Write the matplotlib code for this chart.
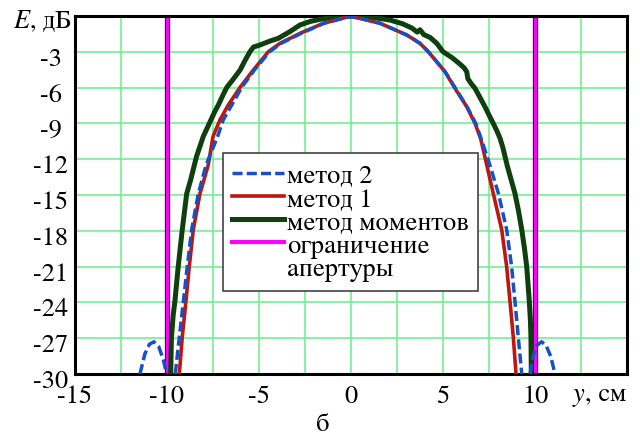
import numpy as np
import matplotlib
matplotlib.use("Agg")
import matplotlib.pyplot as plt
from matplotlib.lines import Line2D
from matplotlib.transforms import ScaledTranslation
import matplotlib.patheffects as pe

FAMILY = ['STIXGeneral', 'Tinos', 'PT Serif', 'Noto Serif', 'Liberation Serif', 'DejaVu Serif']
plt.rcParams['font.family'] = FAMILY
plt.rcParams['mathtext.fontset'] = 'stix'
plt.rcParams['axes.unicode_minus'] = False

# ---------------- data ----------------
# method of moments (dark green)
mom_y = [-9.80, -9.76, -9.66, -9.57, -9.39, -9.17, -8.93, -8.71, -8.40, -8.03,
         -7.70, -7.40, -7.21, -6.95, -6.75, -6.40, -6.03, -5.75, -5.49, -5.30,
         -4.95, -4.40, -3.95, -3.32, -2.77, -2.20, -1.68, -1.00, -0.50, 0.00,
         0.49, 1.20, 2.12, 2.80, 3.30, 3.60, 3.75, 3.95, 4.30, 4.66,
         5.00, 5.50, 5.90, 6.15, 6.29, 6.35, 6.55, 6.74, 7.00, 7.28,
         7.50, 7.73, 7.95, 8.10, 8.25, 8.50, 8.70, 8.91, 9.10, 9.28,
         9.43, 9.55, 9.69, 9.75, 9.78, 9.80]
mom_E = [-30.0, -27.0, -25.0, -23.9, -21.0, -17.9, -14.9, -13.7, -11.8, -10.1,
         -9.0, -8.0, -7.46, -6.6, -5.98, -5.3, -4.53, -3.7, -2.99, -2.6,
         -2.43, -2.1, -1.87, -1.31, -0.75, -0.45, -0.28, -0.12, -0.04, 0.0,
         -0.05, -0.12, -0.34, -0.65, -1.0, -1.35, -1.15, -1.55, -1.8, -2.29,
         -2.99, -3.5, -4.0, -4.35, -4.67, -5.25, -5.7, -6.06, -6.8, -7.6,
         -8.3, -9.0, -9.7, -10.25, -11.0, -12.6, -13.7, -14.86, -16.3, -17.9,
         -19.5, -21.0, -23.9, -25.5, -26.9, -30.0]

# method 1 (red)
m1_y = [-9.33, -9.17, -8.97, -8.79, -8.57, -8.21, -7.76, -7.50, -7.12, -6.67,
        -6.03, -5.31, -4.49, -3.86, -2.77, -1.50, -0.23, 0.00,
        0.49, 1.58, 3.03, 3.75, 4.20, 5.11, 5.65, 6.29, 6.74, 7.05,
        7.38, 7.73, 8.19, 8.46, 8.64, 8.82, 8.97]
m1_E = [-30.0, -26.9, -23.9, -21.0, -17.9, -14.9, -12.5, -10.1, -8.7, -7.46,
        -5.98, -4.53, -2.99, -2.29, -1.45, -0.61, -0.10, -0.05,
        -0.20, -0.61, -1.59, -2.29, -2.99, -4.67, -6.06, -7.6, -9.0, -10.3,
        -12.5, -14.86, -17.9, -21.0, -23.9, -26.9, -30.0]

# method 2 (blue dashed): left side lobe | main lobe | right side lobe
m2_y = [-11.47, -11.20, -10.95, -10.71, -10.45, -10.20, -10.02, np.nan,
        -9.55, -9.33, -9.11, -8.90, -8.66, -8.30, -7.88, -7.25, -6.94, -6.48,
        -5.94, -5.25, -4.42, -3.80, -2.70, -1.45, -0.20, 0.00,
        0.49, 1.58, 3.03, 3.75, 4.20, 5.11, 5.68, 6.30, 6.78, 7.10,
        7.55, 8.01, 8.46, 8.73, 8.91, 9.09, 9.28, np.nan,
        9.73, 9.90, 10.10, 10.36, 10.60, 10.85, 11.09]
m2_E = [-30.0, -28.3, -27.5, -27.3, -27.7, -28.8, -30.0, np.nan,
        -30.0, -26.9, -23.9, -21.0, -17.9, -14.9, -12.5, -10.1, -8.7, -7.46,
        -5.98, -4.53, -2.99, -2.29, -1.45, -0.60, -0.10, -0.05,
        -0.20, -0.61, -1.59, -2.29, -2.99, -4.67, -6.06, -7.6, -9.0, -10.4,
        -12.5, -14.86, -17.9, -21.0, -23.9, -26.9, -30.0, np.nan,
        -30.0, -28.5, -27.6, -27.3, -27.6, -28.5, -30.0]

aperture = [-10, 10]

xticks = [-15, -12.5, -10, -7.5, -5, -2.5, 0, 2.5, 5, 7.5, 10, 12.5, 15]
xtick_labels = ['-15', '', '-10', '', '-5', '', '0', '', '5', '', '10', '', '$y$, см']
yticks = [-3, -6, -9, -12, -15, -18, -21, -24, -27, -30]
ytick_labels = ['-3', '-6', '-9', '-12', '-15', '-18', '-21', '-24', '-27', '-30']

legend_labels = ['метод 2', 'метод 1', 'метод моментов', 'ограничение', 'апертуры']

# ---------------- styles ----------------
C_GREEN = '#0e3f0c'
C_RED = '#c0160e'
C_BLUE = '#1650c8'
C_MAG = '#ff00ff'
C_GRID = '#66f08a'
FS = 19

fig = plt.figure(figsize=(6.4, 4.37), dpi=100)
ax = fig.add_axes([75 / 640, 1 - 374 / 437, 552 / 640, 358 / 437])

for xa in aperture:
    ax.axvline(xa, color=C_MAG, lw=2.2, zorder=2,
               path_effects=[pe.Stroke(linewidth=3.8, foreground='#5a005a'), pe.Normal()])

ax.plot(mom_y, mom_E, color=C_GREEN, lw=3.6, zorder=3, solid_capstyle='butt')
ax.plot(m1_y, m1_E, color=C_RED, lw=2.6, zorder=4)
ax.plot(m2_y, m2_E, color=C_BLUE, lw=2.5, zorder=5, dashes=(2.9, 1.2))

ax.set_xlim(-15, 15)
ax.set_ylim(-30, 0)
ax.set_xticks(xticks)
ax.set_xticklabels(xtick_labels, fontsize=FS, family=FAMILY)
ax.set_yticks(yticks)
ax.set_yticklabels(ytick_labels, fontsize=FS, family=FAMILY)
ax.get_xticklabels()[-1].set_horizontalalignment('right')
ax.tick_params(axis='both', length=0)
ax.tick_params(axis='x', pad=8.0)
ax.tick_params(axis='y', pad=17.3)
off = ScaledTranslation(0, -0.05, fig.dpi_scale_trans)
for lab in ax.get_yticklabels():
    lab.set_horizontalalignment('center')
    lab.set_transform(lab.get_transform() + off)

ax.grid(True, color=C_GRID, lw=1.1)
ax.set_axisbelow(True)
for sp in ax.spines.values():
    sp.set_linewidth(2.2)
    sp.set_color('black')

handles = [
    Line2D([], [], color=C_BLUE, lw=2.5, dashes=(2.9, 1.2)),
    Line2D([], [], color=C_RED, lw=2.6),
    Line2D([], [], color=C_GREEN, lw=3.6),
    Line2D([], [], color=C_MAG, lw=3.0),
    Line2D([], [], color='none', lw=0),
]
leg = ax.legend(handles, legend_labels, loc='upper left',
                bbox_to_anchor=((223 - 75) / 552, 1 - (153 - 16) / 358),
                borderaxespad=0, prop={'family': FAMILY, 'size': FS},
                frameon=True, fancybox=False,
                framealpha=1, edgecolor='#333333', borderpad=0.34,
                labelspacing=-0.15, handlelength=1.97, handletextpad=0.11,
                handleheight=1.05)
leg.get_frame().set_linewidth(1.1)
leg.set_zorder(10)

fig.text(72 / 640, 1 - 27.7 / 437, '$E$, дБ', fontsize=FS, ha='right', va='baseline', family=FAMILY)
fig.text(323 / 640, 1 - 431 / 437, 'б', fontsize=FS, ha='center', va='baseline', family=FAMILY)

fig.savefig('out.png', dpi=100)
